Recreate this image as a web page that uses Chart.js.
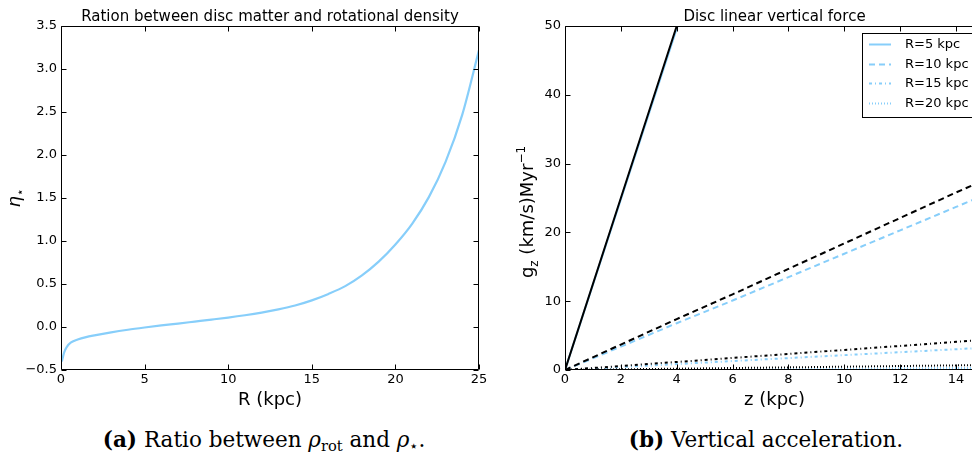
<!DOCTYPE html>
<html>
<head>
<meta charset="utf-8">
<script src="https://cdn.jsdelivr.net/npm/chart.js@4.4.1/dist/chart.umd.min.js"></script>
<style>
html, body { margin: 0; padding: 0; background: #fff; overflow: hidden; width: 972px; height: 457px; }
#chartA { position: absolute; left: 0; top: 0; }
#chartB { position: absolute; left: 490px; top: 0; }
.cap { position: absolute; top: 427px; width: 460px; text-align: center; white-space: nowrap;
       font-family: 'DejaVu Serif', 'Liberation Serif', serif; font-size: 21.5px; color: #000; line-height: 26px; }
.cap sub { font-size: 0.68em; vertical-align: -0.3em; line-height: 0; }
.cap i { font-style: italic; }
</style>
</head>
<body>
<canvas id="chartA" width="490" height="410"></canvas>
<canvas id="chartB" width="500" height="410"></canvas>
<div class="cap" style="left:34px"><b>(a)</b> Ratio between <i>ρ</i><sub>rot</sub> and <i>ρ</i><sub>⋆</sub>.</div>
<div class="cap" style="left:536px"><b>(b)</b> Vertical acceleration.</div>
<script>
// Left panel: eta_star against R
const radiusKpc = [0.05, 0.1, 0.2, 0.35, 0.6, 1, 1.5, 2, 3, 4, 5, 6, 7, 8, 9, 10, 11, 12, 13, 14, 15, 16, 17, 18, 19, 20, 21, 22, 23, 24, 25];
const etaStar = [-0.40, -0.36, -0.29, -0.23, -0.18, -0.145, -0.117, -0.097, -0.062, -0.032, -0.006, 0.018, 0.04, 0.063, 0.086, 0.11, 0.137, 0.168, 0.205, 0.25, 0.31, 0.385, 0.475, 0.6, 0.76, 0.96, 1.2, 1.51, 1.92, 2.47, 3.22];

// Right panel: vertical acceleration against z, light blue = legend series, black = overlay
const zKpc = [0, 2, 4, 6, 8, 10, 12, 14, 15];
const gzR5 = [0, 24.8, 49.6, 74.4, 99.2, 124, 148.8, 173.6, 186];
const gzR10 = [0, 3.4, 6.8, 10.1, 13.5, 16.9, 20.3, 23.7, 25.4];
const gzR15 = [0, 0.43, 0.86, 1.3, 1.73, 2.16, 2.59, 3.02, 3.24];
const gzR20 = [0, 0.04, 0.08, 0.12, 0.16, 0.2, 0.25, 0.29, 0.31];
const gzR5Black = [0, 25, 50, 75, 100, 125, 150, 175, 187.5];
const gzR10Black = [0, 3.7, 7.4, 11.0, 14.7, 18.4, 22.1, 25.8, 27.6];
const gzR15Black = [0, 0.58, 1.17, 1.75, 2.34, 2.92, 3.5, 4.09, 4.38];
const gzR20Black = [0, 0.1, 0.19, 0.29, 0.38, 0.48, 0.58, 0.67, 0.72];
const legendLabels = ['R=5 kpc', 'R=10 kpc', 'R=15 kpc', 'R=20 kpc'];

const FONT = "'DejaVu Sans', sans-serif";
const BLUE = '#87cefa';
const DASHES = [[], [6, 4], [3, 3, 1, 3], [1, 2]];

Chart.defaults.font.family = FONT;
Chart.defaults.color = '#000';

function toPoints(xs, ys) {
    return xs.map((x, i) => ({ x: x, y: ys[i] }));
}

function fmtMinus(v, digits) {
    const s = Number(v).toFixed(digits);
    return s.replace('-', '\u2212');
}

// frame box with inward ticks on all four sides, like the classic matplotlib look
function drawFrame(chart) {
    const { ctx, chartArea: a, scales } = chart;
    const L = Math.round(a.left) + 0.5, R = Math.round(a.right) - 0.5;
    const T = Math.round(a.top) + 0.5, B = Math.round(a.bottom) - 0.5;
    ctx.save();
    ctx.strokeStyle = '#000';
    ctx.lineWidth = 1;
    ctx.beginPath();
    ctx.rect(L, T, R - L, B - T);
    scales.x.ticks.forEach(t => {
        const px = Math.round(scales.x.getPixelForValue(t.value)) + 0.5;
        ctx.moveTo(px, B); ctx.lineTo(px, B - 5);
        ctx.moveTo(px, T); ctx.lineTo(px, T + 5);
    });
    scales.y.ticks.forEach(t => {
        const py = Math.round(scales.y.getPixelForValue(t.value)) + 0.5;
        ctx.moveTo(L, py); ctx.lineTo(L + 5, py);
        ctx.moveTo(R, py); ctx.lineTo(R - 5, py);
    });
    ctx.stroke();
    ctx.restore();
}

function drawTitles(chart, title, xTitle) {
    const { ctx, chartArea: a } = chart;
    ctx.save();
    ctx.fillStyle = '#000';
    ctx.textAlign = 'center';
    ctx.textBaseline = 'alphabetic';
    ctx.font = '15px ' + FONT;
    ctx.fillText(title, (a.left + a.right) / 2, a.top - 5);
    ctx.font = '18px ' + FONT;
    ctx.fillText(xTitle, (a.left + a.right) / 2, a.bottom + 35);
    ctx.restore();
}

// draws rotated pieces of text: [text, font, offset across baseline]
function drawRotated(ctx, cx, cy, pieces) {
    ctx.save();
    let total = 0;
    pieces.forEach(p => { ctx.font = p[1]; total += ctx.measureText(p[0]).width; });
    ctx.translate(cx, cy);
    ctx.rotate(-Math.PI / 2);
    ctx.fillStyle = '#000';
    ctx.textBaseline = 'alphabetic';
    ctx.textAlign = 'left';
    let x = -total / 2;
    pieces.forEach(p => {
        ctx.font = p[1];
        ctx.fillText(p[0], x, p[2]);
        x += ctx.measureText(p[0]).width;
    });
    ctx.restore();
}

const plotA = {
    id: 'plotA',
    afterDatasetsDraw(chart) {
        drawFrame(chart);
        drawTitles(chart, 'Ration between disc matter and rotational density', 'R (kpc)');
        drawRotated(chart.ctx, 20, (chart.chartArea.top + chart.chartArea.bottom) / 2, [
            ['\u03b7', 'italic 18px ' + FONT, 0],
            ['\u22c6', '12px ' + FONT, 4]
        ]);
    }
};

const plotB = {
    id: 'plotB',
    afterDatasetsDraw(chart) {
        drawFrame(chart);
        drawTitles(chart, 'Disc linear vertical force', 'z (kpc)');
        drawRotated(chart.ctx, 43, 212, [
            ['g', '18px ' + FONT, 0],
            ['z', '12px ' + FONT, 5],
            [' (km/s)Myr', '18px ' + FONT, 0],
            ['\u22121', '12px ' + FONT, -8]
        ]);
        // legend box in the upper right corner
        const { ctx, chartArea: a } = chart;
        const bx = a.left + 297, by = a.top + 7;
        ctx.save();
        ctx.fillStyle = '#fff';
        ctx.fillRect(bx, by, 126, 84);
        ctx.strokeStyle = '#000';
        ctx.lineWidth = 1;
        ctx.strokeRect(Math.round(bx) + 0.5, Math.round(by) + 0.5, 126, 84);
        ctx.font = '13px ' + FONT;
        ctx.textBaseline = 'middle';
        ctx.fillStyle = '#000';
        legendLabels.forEach((lab, i) => {
            const y = Math.round(by + 11 + i * 19.7) + 0.5;
            ctx.strokeStyle = BLUE;
            ctx.lineWidth = 2;
            ctx.setLineDash(DASHES[i]);
            ctx.beginPath();
            ctx.moveTo(bx + 7, y);
            ctx.lineTo(bx + 29, y);
            ctx.stroke();
            ctx.setLineDash([]);
            ctx.fillText(lab, bx + 43, y);
        });
        ctx.restore();
    }
};

function lineSet(label, xs, ys, color, dash, order) {
    return {
        label: label,
        data: toPoints(xs, ys),
        borderColor: color,
        borderWidth: 2,
        borderDash: dash,
        pointRadius: 0,
        fill: false,
        order: order
    };
}

function createCurveChart() {
    return new Chart(document.getElementById('chartA'), {
        type: 'line',
        data: {
            datasets: [{
                label: 'eta',
                data: toPoints(radiusKpc, etaStar),
                borderColor: BLUE,
                borderWidth: 2.2,
                pointRadius: 0,
                cubicInterpolationMode: 'monotone',
                fill: false
            }]
        },
        options: {
            responsive: false,
            animation: false,
            layout: { padding: { top: 26, right: 11, left: 0, bottom: 0 } },
            plugins: { legend: { display: false }, tooltip: { enabled: false } },
            scales: {
                x: {
                    type: 'linear', min: 0, max: 25,
                    ticks: { stepSize: 5, padding: 2, font: { size: 13 }, color: '#000', maxRotation: 0 },
                    grid: { drawOnChartArea: false, drawTicks: false },
                    border: { display: false },
                    afterFit: s => { s.height = 40; }
                },
                y: {
                    type: 'linear', min: -0.5, max: 3.5,
                    ticks: { stepSize: 0.5, padding: 4, font: { size: 13 }, color: '#000', callback: v => fmtMinus(v, 1) },
                    grid: { drawOnChartArea: false, drawTicks: false },
                    border: { display: false },
                    afterFit: s => { s.width = 61; }
                }
            }
        },
        plugins: [plotA]
    });
}

function createForceChart() {
    const sets = [
        lineSet(legendLabels[0], zKpc, gzR5, BLUE, DASHES[0], 2),
        lineSet(legendLabels[1], zKpc, gzR10, BLUE, DASHES[1], 2),
        lineSet(legendLabels[2], zKpc, gzR15, BLUE, DASHES[2], 2),
        lineSet(legendLabels[3], zKpc, gzR20, BLUE, DASHES[3], 2),
        lineSet('R=5 black', zKpc, gzR5Black, '#000', DASHES[0], 1),
        lineSet('R=10 black', zKpc, gzR10Black, '#000', DASHES[1], 1),
        lineSet('R=15 black', zKpc, gzR15Black, '#000', DASHES[2], 1),
        lineSet('R=20 black', zKpc, gzR20Black, '#000', DASHES[3], 1)
    ];
    return new Chart(document.getElementById('chartB'), {
        type: 'line',
        data: { datasets: sets },
        options: {
            responsive: false,
            animation: false,
            layout: { padding: { top: 26, right: 6, left: 0, bottom: 0 } },
            plugins: { legend: { display: false }, tooltip: { enabled: false } },
            scales: {
                x: {
                    type: 'linear', min: 0, max: 15,
                    ticks: { stepSize: 2, includeBounds: false, padding: 2, font: { size: 13 }, color: '#000', maxRotation: 0 },
                    grid: { drawOnChartArea: false, drawTicks: false },
                    border: { display: false },
                    afterFit: s => { s.height = 40; }
                },
                y: {
                    type: 'linear', min: 0, max: 50,
                    ticks: { stepSize: 10, padding: 4, font: { size: 13 }, color: '#000' },
                    grid: { drawOnChartArea: false, drawTicks: false },
                    border: { display: false },
                    afterFit: s => { s.width = 75; }
                }
            }
        },
        plugins: [plotB]
    });
}

window.onload = function() {
    window.curveChart = createCurveChart();
    window.forceChart = createForceChart();
};
</script>
</body>
</html>
